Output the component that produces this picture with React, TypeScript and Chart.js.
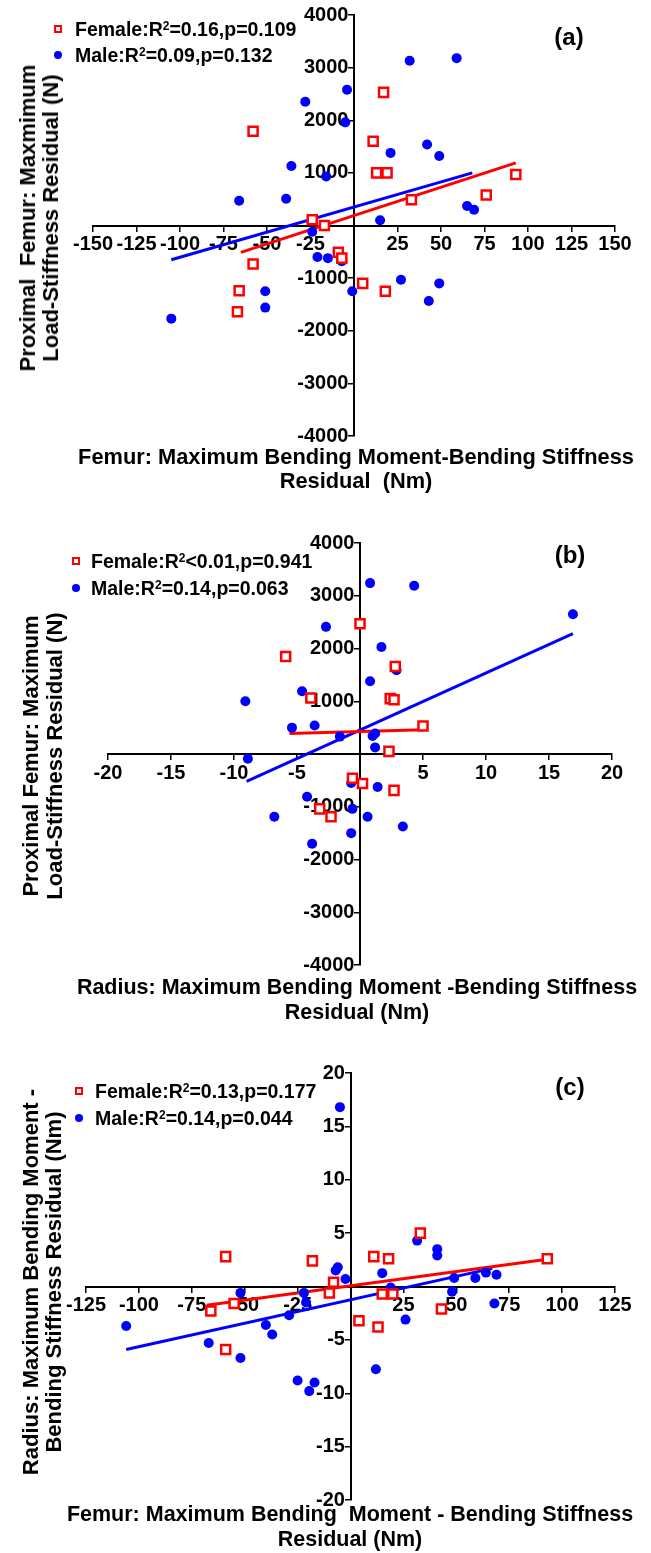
import React, { useEffect, useRef } from 'react';
import { Chart, registerables } from 'chart.js';
Chart.register(...registerables);

const FONT = "'Liberation Sans', Arial, Helvetica, sans-serif";

// ---------- Panel (a) ----------
const aFemaleX = [-58, 17, 11, 13, 19, 33, 76, 93, -24, -17, -9, -7, -58, -66, -67, 5, 18];
const aFemaleY = [1790, 2530, 1600, 1000, 1000, 490, 580, 970, 110, 0, -510, -620, -730, -1240, -1640, -1100, -1250];
const aMaleX = [32, 59, -4, -28, -5, 21, 42, 49, -36, -16, -66, -39, 65, 69, 15, -24, -21, -15, -7, -51, -51, -105, -1, 27, 49, 43];
const aMaleY = [3130, 3180, 2580, 2350, 1960, 1380, 1540, 1320, 1130, 930, 470, 510, 370, 300, 100, -120, -600, -620, -680, -1250, -1560, -1770, -1250, -1030, -1100, -1435];
const aFemaleFitX = [-65, 93];
const aFemaleFitY = [-510, 1190];
const aMaleFitX = [-105, 68];
const aMaleFitY = [-650, 1000];

// ---------- Panel (b) ----------
const bFemaleX = [0, -5.9, 2.8, -3.9, 2.4, 2.7, 5, 2.3, -0.6, 0.2, 2.7, -3.2, -2.3];
const bFemaleY = [2470, 1850, 1660, 1060, 1050, 1030, 530, 50, -460, -560, -690, -1040, -1190];
const bMaleX = [0.8, 4.3, 16.9, -2.7, 1.7, 2.9, 0.8, -4.6, -9.1, -5.4, -3.6, -1.6, 1.0, 1.2, 1.2, -8.9, -0.7, 1.4, -4.2, -0.6, -6.8, 0.6, 3.4, -0.7, -3.8];
const bMaleY = [3240, 3190, 2650, 2410, 2030, 1590, 1380, 1190, 1000, 500, 540, 330, 340, 390, 125, -90, -550, -625, -810, -1040, -1190, -1190, -1375, -1500, -1700];
const bFemaleFitX = [-5.6, 5];
const bFemaleFitY = [390, 460];
const bMaleFitX = [-9, 16.9];
const bMaleFitY = [-520, 2280];

// ---------- Panel (c) ----------
const cFemaleX = [33, -59, -18, 11, 18, 93, -8, -10, -55, -66, 15, 20, 43, 4, 13, -59];
const cFemaleY = [5.0, 2.8, 2.4, 2.8, 2.6, 2.6, 0.4, -0.6, -1.6, -2.3, -0.7, -0.7, -2.1, -3.2, -3.8, -5.9];
const cMaleX = [-5, 31.5, 41, 41, -6, -7, 15, -2.4, 49, 59, 64, 69, 19, -52, -22, -21, 48, 68, -29, 26, -106, -40, -37, -67, -52, 12, -25, -17, -19.5];
const cMaleY = [16.8, 4.3, 3.5, 2.9, 1.8, 1.5, 1.25, 0.7, 0.8, 0.8, 1.3, 1.1, -0.1, -0.6, -0.6, -1.5, -0.5, -1.6, -2.7, -3.1, -3.7, -3.6, -4.5, -5.3, -6.7, -7.75, -8.8, -9.0, -9.8];
const cFemaleFitX = [-68, 93];
const cFemaleFitY = [-1.75, 2.56];
const cMaleFitX = [-106, 67];
const cMaleFitY = [-5.9, 1.7];

const pts = (xs: number[], ys: number[]) => xs.map((x, i) => ({ x, y: ys[i] }));

type PanelCfg = {
  top: number;
  height: number;
  pad: { left: number; right: number; top: number; bottom: number };
  xMin: number; xMax: number; xStep: number;
  yMin: number; yMax: number; yStep: number;
  fx: number[]; fy: number[]; mx: number[]; my: number[];
  ffx: number[]; ffy: number[]; mfx: number[]; mfy: number[];
};

const panels: PanelCfg[] = [
  {
    top: 0, height: 510, pad: { left: 93, right: 36, top: 14, bottom: 74 },
    xMin: -150, xMax: 150, xStep: 25, yMin: -4000, yMax: 4000, yStep: 1000,
    fx: aFemaleX, fy: aFemaleY, mx: aMaleX, my: aMaleY,
    ffx: aFemaleFitX, ffy: aFemaleFitY, mfx: aMaleFitX, mfy: aMaleFitY,
  },
  {
    top: 510, height: 520, pad: { left: 108, right: 39, top: 33, bottom: 65 },
    xMin: -20, xMax: 20, xStep: 5, yMin: -4000, yMax: 4000, yStep: 1000,
    fx: bFemaleX, fy: bFemaleY, mx: bMaleX, my: bMaleY,
    ffx: bFemaleFitX, ffy: bFemaleFitY, mfx: bMaleFitX, mfy: bMaleFitY,
  },
  {
    top: 1030, height: 523, pad: { left: 86, right: 36, top: 43, bottom: 53 },
    xMin: -125, xMax: 125, xStep: 25, yMin: -20, yMax: 20, yStep: 5,
    fx: cFemaleX, fy: cFemaleY, mx: cMaleX, my: cMaleY,
    ffx: cFemaleFitX, ffy: cFemaleFitY, mfx: cMaleFitX, mfy: cMaleFitY,
  },
];

const tickFont = { family: FONT, size: 20, weight: 'bold' as const };
const hideZero = (v: any) => (Number(v) === 0 ? '' : String(v));
const hideZeroY = (v: any) => (Number(v) === 0 ? '' : String(v) + ' ');

function Panel({ cfg }: { cfg: PanelCfg }) {
  const ref = useRef<HTMLCanvasElement | null>(null);
  useEffect(() => {
    if (!ref.current) return;
    const chart = new Chart(ref.current, {
      type: 'scatter',
      data: {
        datasets: [
          {
            label: 'Female',
            data: pts(cfg.fx, cfg.fy),
            pointStyle: 'rect',
            pointRadius: 6.4,
            pointBorderWidth: 2.5,
            pointBorderColor: '#ff0000',
            pointBackgroundColor: '#ffffff',
            borderColor: '#ff0000',
            backgroundColor: '#ffffff',
            order: 1,
            clip: false,
          } as any,
          {
            label: 'Male',
            data: pts(cfg.mx, cfg.my),
            pointStyle: 'circle',
            pointRadius: 5,
            pointBorderWidth: 0,
            pointBorderColor: '#0000ff',
            pointBackgroundColor: '#0000ff',
            borderColor: '#0000ff',
            backgroundColor: '#0000ff',
            order: 2,
            clip: false,
          } as any,
          {
            label: 'Female fit',
            data: pts(cfg.ffx, cfg.ffy),
            showLine: true,
            borderColor: '#ff0000',
            borderWidth: 3,
            pointRadius: 0,
            order: 3,
          } as any,
          {
            label: 'Male fit',
            data: pts(cfg.mfx, cfg.mfy),
            showLine: true,
            borderColor: '#0000ff',
            borderWidth: 3,
            pointRadius: 0,
            order: 4,
          } as any,
        ],
      },
      options: {
        responsive: false,
        animation: false,
        layout: { padding: cfg.pad },
        plugins: { legend: { display: false }, tooltip: { enabled: false } },
        scales: {
          x: {
            type: 'linear',
            min: cfg.xMin,
            max: cfg.xMax,
            position: { y: 0 } as any,
            ticks: {
              stepSize: cfg.xStep,
              autoSkip: false,
              minRotation: 0,
              maxRotation: 0,
              color: '#000',
              font: tickFont,
              padding: 2,
              callback: hideZero,
            },
            grid: { display: true, drawOnChartArea: false, drawTicks: true, tickLength: 5, color: '#000', lineWidth: 1.5 },
            border: { display: true, color: '#000', width: 2 },
          },
          y: {
            type: 'linear',
            min: cfg.yMin,
            max: cfg.yMax,
            position: { x: 0 } as any,
            ticks: {
              stepSize: cfg.yStep,
              autoSkip: false,
              color: '#000',
              font: tickFont,
              padding: 3,
              callback: hideZeroY,
            },
            grid: { display: true, drawOnChartArea: false, drawTicks: true, tickLength: 5, color: '#000', lineWidth: 1.5 },
            border: { display: true, color: '#000', width: 2 },
          },
        },
      } as any,
    });
    return () => chart.destroy();
  }, [cfg]);
  return (
    <canvas
      ref={ref}
      width={651}
      height={cfg.height}
      style={{ position: 'absolute', left: 0, top: cfg.top, width: 651, height: cfg.height }}
    />
  );
}

const base: React.CSSProperties = {
  position: 'absolute',
  fontFamily: FONT,
  fontWeight: 'bold',
  color: '#000',
  whiteSpace: 'pre',
};

function CText({ x, y, size, lh, rot, children }: { x: number; y: number; size: number; lh?: number; rot?: boolean; children: React.ReactNode }) {
  return (
    <div
      style={{
        ...base,
        left: x,
        top: y,
        fontSize: size,
        lineHeight: (lh || size * 1.2) + 'px',
        textAlign: 'center',
        transform: 'translate(-50%, -50%)' + (rot ? ' rotate(-90deg)' : ''),
      }}
    >
      {children}
    </div>
  );
}

function LegendRow({ x, y, textX, kind, children }: { x: number; y: number; textX: number; kind: 'f' | 'm'; children: React.ReactNode }) {
  return (
    <>
      {kind === 'f' ? (
        <div style={{ position: 'absolute', left: x - 4, top: y - 4, width: 8, height: 8, boxSizing: 'border-box', border: '2px solid #ff0000', background: '#fff' }} />
      ) : (
        <div style={{ position: 'absolute', left: x - 4, top: y - 4, width: 8, height: 8, borderRadius: '50%', background: '#0000ff' }} />
      )}
      <div style={{ ...base, left: textX, top: y, fontSize: 19.5, lineHeight: '24px', transform: 'translateY(-50%)' }}>{children}</div>
    </>
  );
}

const sup = (t: string) => <sup style={{ fontSize: 12, verticalAlign: 'top', position: 'relative', top: -3 }}>{t}</sup>;

export default function App() {
  useEffect(() => {
    document.body.style.margin = '0';
  }, []);
  return (
    <div style={{ position: 'relative', width: 651, height: 1553, background: '#fff', overflow: 'hidden' }}>
      {panels.map((p, i) => (
        <Panel key={i} cfg={p} />
      ))}

      {/* Panel (a) */}
      <LegendRow x={58} y={29} textX={75} kind="f">Female:R{sup('2')}=0.16,p=0.109</LegendRow>
      <LegendRow x={58} y={55} textX={75} kind="m">Male:R{sup('2')}=0.09,p=0.132</LegendRow>
      <CText x={569} y={37} size={24}>(a)</CText>
      <CText x={39} y={218} size={22} lh={23} rot>{'Proximal  Femur: Maxmimum\nLoad-Stiffness Residual (N)'}</CText>
      <CText x={356} y={469} size={21.8} lh={24}>{'Femur: Maximum Bending Moment-Bending Stiffness\nResidual  (Nm)'}</CText>

      {/* Panel (b) */}
      <LegendRow x={76} y={561} textX={91} kind="f">Female:R{sup('2')}&lt;0.01,p=0.941</LegendRow>
      <LegendRow x={76} y={588} textX={91} kind="m">Male:R{sup('2')}=0.14,p=0.063</LegendRow>
      <CText x={570} y={555} size={24}>(b)</CText>
      <CText x={43} y={756} size={22} lh={24} rot>{'Proximal Femur: Maximum\nLoad-Stiffness Residual (N)'}</CText>
      <CText x={357} y={1000} size={21.5} lh={25}>{'Radius: Maximum Bending Moment -Bending Stiffness\nResidual (Nm)'}</CText>

      {/* Panel (c) */}
      <LegendRow x={79} y={1091} textX={95} kind="f">Female:R{sup('2')}=0.13,p=0.177</LegendRow>
      <LegendRow x={79} y={1118} textX={95} kind="m">Male:R{sup('2')}=0.14,p=0.044</LegendRow>
      <CText x={570} y={1087} size={24}>(c)</CText>
      <CText x={42} y={1282} size={22} lh={23} rot>{'Radius: Maximum Bending Moment -\nBending Stiffness Residual (Nm)'}</CText>
      <CText x={350} y={1527} size={21.5} lh={25}>{'Femur: Maximum Bending  Moment - Bending Stiffness\nResidual (Nm)'}</CText>
    </div>
  );
}
